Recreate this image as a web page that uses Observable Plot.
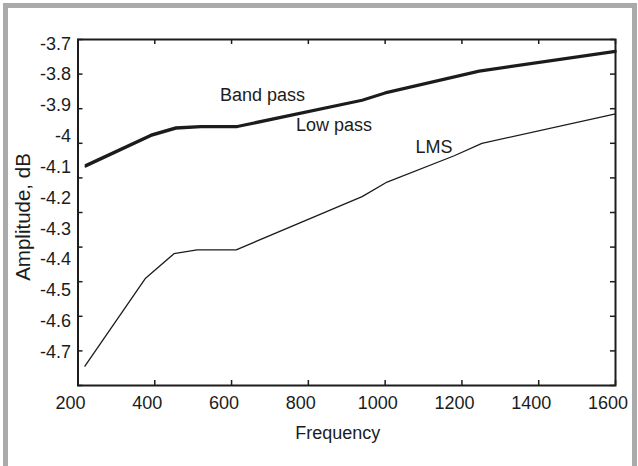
<!DOCTYPE html>
<html><head><meta charset="utf-8">
<script src="https://cdn.jsdelivr.net/npm/d3@7"></script>
<script src="https://cdn.jsdelivr.net/npm/@observablehq/plot@0.6"></script>
<style>
html,body{margin:0;padding:0;background:#fff;}
#wrap{position:relative;width:638px;height:466px;overflow:hidden;}
#wrap svg{position:absolute;left:0;top:0;}
#border{position:absolute;left:3px;top:3px;width:634px;height:470px;box-sizing:border-box;border:5px solid #aaaaaa;pointer-events:none;}
</style></head><body>
<div id="wrap"><div id="chart"></div><div id="labels"></div><div id="border"></div></div>
<script>
// Data (amplitude in dB vs frequency)
const passFreq = [220, 390, 455, 520, 615, 940, 1000, 1245, 1600];
const bandPass = [-4.063, -3.975, -3.954, -3.950, -3.950, -3.874, -3.853, -3.790, -3.733];
const lowPass  = [-4.067, -3.979, -3.958, -3.953, -3.953, -3.877, -3.856, -3.793, -3.736];
const lmsFreq  = [218, 376, 450, 510, 612, 940, 1005, 1180, 1252, 1600];
const lms      = [-4.644, -4.390, -4.319, -4.308, -4.308, -4.154, -4.112, -4.036, -4.000, -3.915];

const xTicks = [200, 400, 600, 800, 1000, 1200, 1400, 1600];
const xTickLabels = ["200", "400", "600", "800", "1000", "1200", "1400", "1600"];
const yTicks = [-3.7, -3.8, -3.9, -4.0, -4.1, -4.2, -4.3, -4.4, -4.5, -4.6, -4.7];
const yTickLabels = ["-3.7", "-3.8", "-3.9", "-4", "-4.1", "-4.2", "-4.3", "-4.4", "-4.5", "-4.6", "-4.7"];

const seriesNames = ["Band pass", "Low pass", "LMS"];
const labelFreq = [570, 768, 1079];
const labelAmp = [-3.860, -3.949, -4.010];

const W = 638, H = 466, mL = 77.5, mR = 23, mT = 39, mB = 81;
const plotW = W - mL - mR, plotH = H - mT - mB;
const ink = "#1c1c1c";
const fontFamily = "'Liberation Sans', Arial, Helvetica, sans-serif";

const bandRows = passFreq.map((f, i) => ({f, v: bandPass[i]}));
const lowRows = passFreq.map((f, i) => ({f, v: lowPass[i]}));
const lmsRows = lmsFreq.map((f, i) => ({f, v: lms[i]}));
const labelRows = seriesNames.map((name, i) => ({name, f: labelFreq[i], v: labelAmp[i]}));
const yFmt = d => yTickLabels[yTicks.findIndex(t => Math.abs(t - d) < 1e-9)];

const chart = Plot.plot({
  width: W, height: H,
  marginLeft: mL, marginRight: mR, marginTop: mT, marginBottom: mB,
  style: {fontFamily, fontSize: "18px", color: ink, background: "transparent"},
  x: {domain: [200, 1600]},
  y: {domain: [-4.7, -3.7], axis: null},
  marks: [
    Plot.axisX({ticks: xTicks, tickSize: 0, tickPadding: 11, fontSize: 18, label: null, dx: -7.5,
      tickFormat: d => xTickLabels[xTicks.indexOf(d)]}),
    Plot.tickX(xTicks, {x: d => d, insetTop: plotH - 5, stroke: ink, strokeWidth: 1.5}),
    Plot.tickX(xTicks, {x: d => d, insetBottom: plotH - 5, stroke: ink, strokeWidth: 1.5}),
    Plot.tickY(yTicks, {y: d => d, insetRight: plotW - 5, stroke: ink, strokeWidth: 1.5}),
    Plot.tickY(yTicks, {y: d => d, insetLeft: plotW - 5, stroke: ink, strokeWidth: 1.5}),
    Plot.line(lmsRows, {x: "f", y: "v", stroke: ink, strokeWidth: 1.3, strokeLinejoin: "round"}),
    Plot.line(lowRows, {x: "f", y: "v", stroke: ink, strokeWidth: 2.2, strokeLinejoin: "round"}),
    Plot.line(bandRows, {x: "f", y: "v", stroke: ink, strokeWidth: 2.2, strokeLinejoin: "round"}),
    Plot.text(labelRows.filter(d => d.name === "LMS"), {x: "f", y: "v", text: "name", textAnchor: "start",
      fill: ink, stroke: "white", strokeWidth: 5, paintOrder: "stroke", fontSize: 18}),
    Plot.text(labelRows.filter(d => d.name !== "LMS"), {x: "f", y: "v", text: "name", textAnchor: "start",
      fill: ink, fontSize: 18}),
    Plot.frame({stroke: ink, strokeWidth: 2}),
    Plot.text(["Frequency"], {text: d => d, frameAnchor: "bottom", textAnchor: "middle", lineAnchor: "middle",
      dx: -9, dy: 48, fill: ink, fontSize: 18}),
    Plot.text(["Amplitude, dB"], {text: d => d, frameAnchor: "left", textAnchor: "middle", lineAnchor: "middle",
      rotate: -90, dx: -54.5, dy: 4.5, fill: ink, fontSize: 20.5})
  ]
});
document.getElementById("chart").appendChild(chart);

// The printed y tick labels in the reference are set slightly tighter than the tick marks;
// they are drawn by their own axis scale so their spacing matches the picture.
const labelAxis = Plot.plot({
  width: W, height: H,
  marginLeft: mL, marginRight: mR, marginTop: mT, marginBottom: mB,
  style: {fontFamily, fontSize: "18px", color: ink, background: "transparent"},
  x: {domain: [200, 1600], axis: null},
  y: {domain: [-4.7, -3.7], range: [351.7, 43.3]},
  marks: [
    Plot.axisY({ticks: yTicks, tickSize: 0, tickPadding: 7, fontSize: 18, label: null, tickFormat: yFmt})
  ]
});
document.getElementById("labels").appendChild(labelAxis);
</script>
</body></html>
